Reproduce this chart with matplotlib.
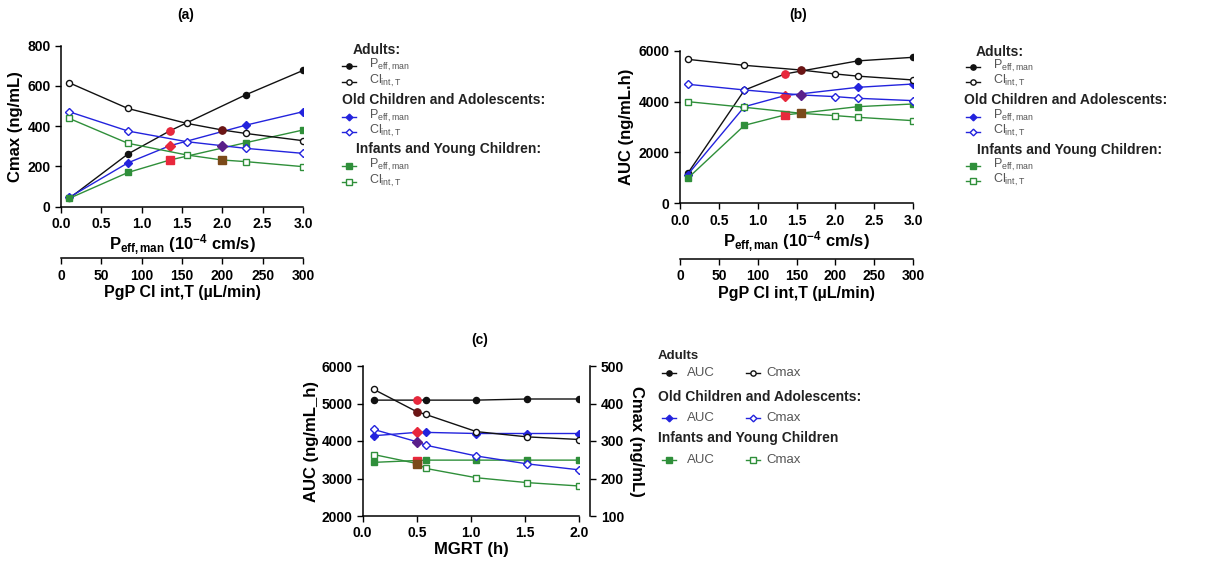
import matplotlib
matplotlib.use("Agg")
import matplotlib.pyplot as plt
from matplotlib.lines import Line2D

plt.rcParams['font.family'] = ['Liberation Sans', 'DejaVu Sans']
plt.rcParams['mathtext.fontset'] = 'custom'
plt.rcParams['mathtext.rm'] = 'Liberation Sans'
plt.rcParams['mathtext.bf'] = 'Liberation Sans:bold'
plt.rcParams['mathtext.it'] = 'Liberation Sans:italic'

# ---------------- data ----------------
peff_x = [0.1, 0.83, 1.35, 2.29, 3.0]          # 10^-4 cm/s
peff_base = 2
cl_x = [10, 83, 156, 200, 229, 300]             # uL/min
cl_base_a = 3
cl_base_b = 2

a_adult_peff = [41, 262, 377, 556, 677]
a_child_peff = [46, 218, 303, 405, 472]
a_infant_peff = [41, 170, 232, 318, 381]
a_adult_cl = [616, 488, 414, 381, 364, 328]
a_child_cl = [472, 376, 323, 303, 290, 265]
a_infant_cl = [439, 315, 257, 232, 224, 199]

b_adult_peff = [1180, 4450, 5085, 5600, 5740]
b_child_peff = [1130, 3800, 4233, 4560, 4690]
b_infant_peff = [983, 3067, 3473, 3800, 3905]
b_adult_cl = [5660, 5425, 5240, 5085, 5000, 4850]
b_child_cl = [4680, 4456, 4260, 4194, 4128, 4037]
b_infant_cl = [3997, 3775, 3539, 3447, 3381, 3250]

mgrt_x = [0.1, 0.5, 0.58, 1.05, 1.52, 2.0]
mgrt_base = 1
c_adult_auc = [5090, 5090, 5090, 5090, 5120, 5120]
c_child_auc = [4140, 4230, 4230, 4200, 4200, 4200]
c_infant_auc = [3430, 3480, 3490, 3490, 3490, 3490]
c_adult_cmax = [438, 378, 371, 325, 311, 304]
c_child_cmax = [331, 298, 289, 260, 239, 223]
c_infant_cmax = [264, 240, 227, 202, 189, 180]

groups = ['Adults', 'Old Children and Adolescents', 'Infants and Young Children']
colors = ['#111111', '#2323dd', '#2f8f3a']
markers = ['o', 'D', 's']
msizes = [4.4, 4.0, 4.4]
base_red = '#e8283c'
base_dark = ['#6b1515', '#5a1f8a', '#7b4a1a']

W, H = 1215, 563
fig = plt.figure(figsize=(W / 100, H / 100), dpi=100)

TICK_FS = 10
LAB_FS = 12


def fr(x0, y0, x1, y1):
    return [x0 / W, 1 - y1 / H, (x1 - x0) / W, (y1 - y0) / H]


def style(ax):
    ax.tick_params(direction='out', length=4, width=1, labelsize=TICK_FS)
    for lab in ax.get_xticklabels() + ax.get_yticklabels():
        lab.set_fontweight('bold')
    for s in ax.spines.values():
        s.set_linewidth(1.1)


def series(ax, x, y, i, filled, base, base_col):
    c = colors[i]
    ax.plot(x, y, color=c, lw=1, marker=markers[i], ms=msizes[i],
            mfc=c if filled else 'white', mec=c, mew=1, zorder=3)
    ax.plot([x[base]], [y[base]], ls='none', marker=markers[i], ms=msizes[i] + 0.8,
            mfc=base_col, mec=base_col, zorder=4)


def txt(x, y, s, **kw):
    kw.setdefault('ha', 'left')
    fig.text(x / W, 1 - y / H, s, va='center', **kw)


def panel_ab(rect, ylabel, ylim, yticks, dpeff, dcl, cl_base, outward):
    ax = fig.add_axes(rect)
    ax.set_xlim(0, 3.0)
    ax.set_ylim(*ylim)
    ax.set_yticks(yticks)
    ax.set_xticks([0.0, 0.5, 1.0, 1.5, 2.0, 2.5, 3.0])
    ax.set_xticklabels(['0.0', '0.5', '1.0', '1.5', '2.0', '2.5', '3.0'])
    ax.spines['top'].set_visible(False)
    ax.spines['right'].set_visible(False)
    ax.set_ylabel(ylabel, fontsize=LAB_FS, fontweight='bold', labelpad=3)
    ax.set_xlabel(r'P$_{\mathbf{eff,man}}$ (10$^{\mathbf{-4}}$ cm/s)', fontsize=LAB_FS,
                  fontweight='bold', labelpad=1)
    style(ax)
    ax2 = ax.twiny()
    ax2.set_xlim(0, 300)
    ax2.xaxis.set_ticks_position('bottom')
    ax2.xaxis.set_label_position('bottom')
    ax2.spines['bottom'].set_position(('outward', outward))
    for s in ['top', 'left', 'right']:
        ax2.spines[s].set_visible(False)
    ax2.set_xticks([0, 50, 100, 150, 200, 250, 300])
    ax2.set_xlabel('PgP Cl int,T (µL/min)', fontsize=11.5, fontweight='bold', labelpad=2)
    style(ax2)
    for i in range(3):
        series(ax, peff_x, dpeff[i], i, True, peff_base, base_red)
        series(ax2, cl_x, dcl[i], i, False, cl_base, base_dark[i])
    return ax


panel_ab(fr(61, 45.7, 303, 206.7), 'Cmax (ng/mL)', (0, 800), [0, 200, 400, 600, 800],
         [a_adult_peff, a_child_peff, a_infant_peff],
         [a_adult_cl, a_child_cl, a_infant_cl], cl_base_a, 37)
panel_ab(fr(680, 50.7, 913, 203.3), 'AUC (ng/mL.h)', (0, 6000), [0, 2000, 4000, 6000],
         [b_adult_peff, b_child_peff, b_infant_peff],
         [b_adult_cl, b_child_cl, b_infant_cl], cl_base_b, 40)
txt(186, 15, '(a)', fontsize=10, fontweight='bold', ha='center')
txt(798, 15, '(b)', fontsize=10, fontweight='bold', ha='center')

# ---------------- panel c ----------------
axc = fig.add_axes(fr(362.7, 366, 579.3, 516))
axc.set_xlim(0, 2.0)
axc.set_ylim(2000, 6000)
axc.set_yticks([2000, 3000, 4000, 5000, 6000])
axc.set_xticks([0.0, 0.5, 1.0, 1.5, 2.0])
axc.set_xticklabels(['0.0', '0.5', '1.0', '1.5', '2.0'])
axc.spines['top'].set_visible(False)
axc.spines['right'].set_visible(False)
axc.set_ylabel('AUC (ng/mL_h)', fontsize=LAB_FS, fontweight='bold', labelpad=2)
axc.set_xlabel('MGRT (h)', fontsize=LAB_FS, fontweight='bold', labelpad=1)
style(axc)
axr = axc.twinx()
axr.set_ylim(100, 500)
axr.set_yticks([100, 200, 300, 400, 500])
for s in ['top', 'left', 'bottom']:
    axr.spines[s].set_visible(False)
axr.spines['right'].set_position(('outward', 8))
axr.set_ylabel('Cmax (ng/mL)', fontsize=LAB_FS, fontweight='bold', rotation=-90, labelpad=14)
style(axr)
txt(480, 340, '(c)', fontsize=10, fontweight='bold', ha='center')
c_auc = [c_adult_auc, c_child_auc, c_infant_auc]
c_cmax = [c_adult_cmax, c_child_cmax, c_infant_cmax]
for i in range(3):
    series(axc, mgrt_x, c_auc[i], i, True, mgrt_base, base_red)
    series(axr, mgrt_x, c_cmax[i], i, False, mgrt_base, base_dark[i])


# ---------------- legends ----------------
def key(x, y, i, filled):
    c = colors[i]
    ln = Line2D([x / W, (x + 7) / W, (x + 14) / W], [1 - y / H] * 3, transform=fig.transFigure,
                color=c, lw=1, marker=markers[i], markevery=[1], ms=msizes[i] - 0.6,
                mfc=c if filled else 'white', mec=c)
    fig.add_artist(ln)


PL = r'P$_{\mathrm{eff,man}}$'
CL = r'Cl$_{\mathrm{int,T}}$'
GRAY = '#555555'


def legend_ab(x0, hx, rows):
    heads = ['Adults:', 'Old Children and Adolescents:', 'Infants and Young Children:']
    for i in range(3):
        yh, yp, yc = rows[3 * i:3 * i + 3]
        txt(hx[i], yh, heads[i], fontsize=10, fontweight='bold', color='#222222')
        key(x0, yp, i, True)
        txt(x0 + 27, yp - 1, PL, fontsize=9, color=GRAY)
        key(x0, yc, i, False)
        txt(x0 + 27, yc - 1, CL, fontsize=9, color=GRAY)


legend_ab(342, [353, 342, 356], [50, 66, 82, 100, 117, 132, 149, 166, 182])
legend_ab(966, [976, 964, 977], [52, 67, 82, 100, 117, 132, 150, 166, 181])

heads_c = ['Adults', 'Old Children and Adolescents:', 'Infants and Young Children']
rows_c = [(356, 373), (397, 418), (438, 460)]
for i in range(3):
    yh, yr = rows_c[i]
    txt(658, yh, heads_c[i], fontsize=9.5 if i == 0 else 10, fontweight='bold', color='#222222')
    key(662, yr, i, True)
    txt(687, yr, 'AUC', fontsize=9.5, color=GRAY)
    key(746, yr, i, False)
    txt(766, yr, 'Cmax', fontsize=9.5, color=GRAY)

fig.savefig('out.png', dpi=100)
